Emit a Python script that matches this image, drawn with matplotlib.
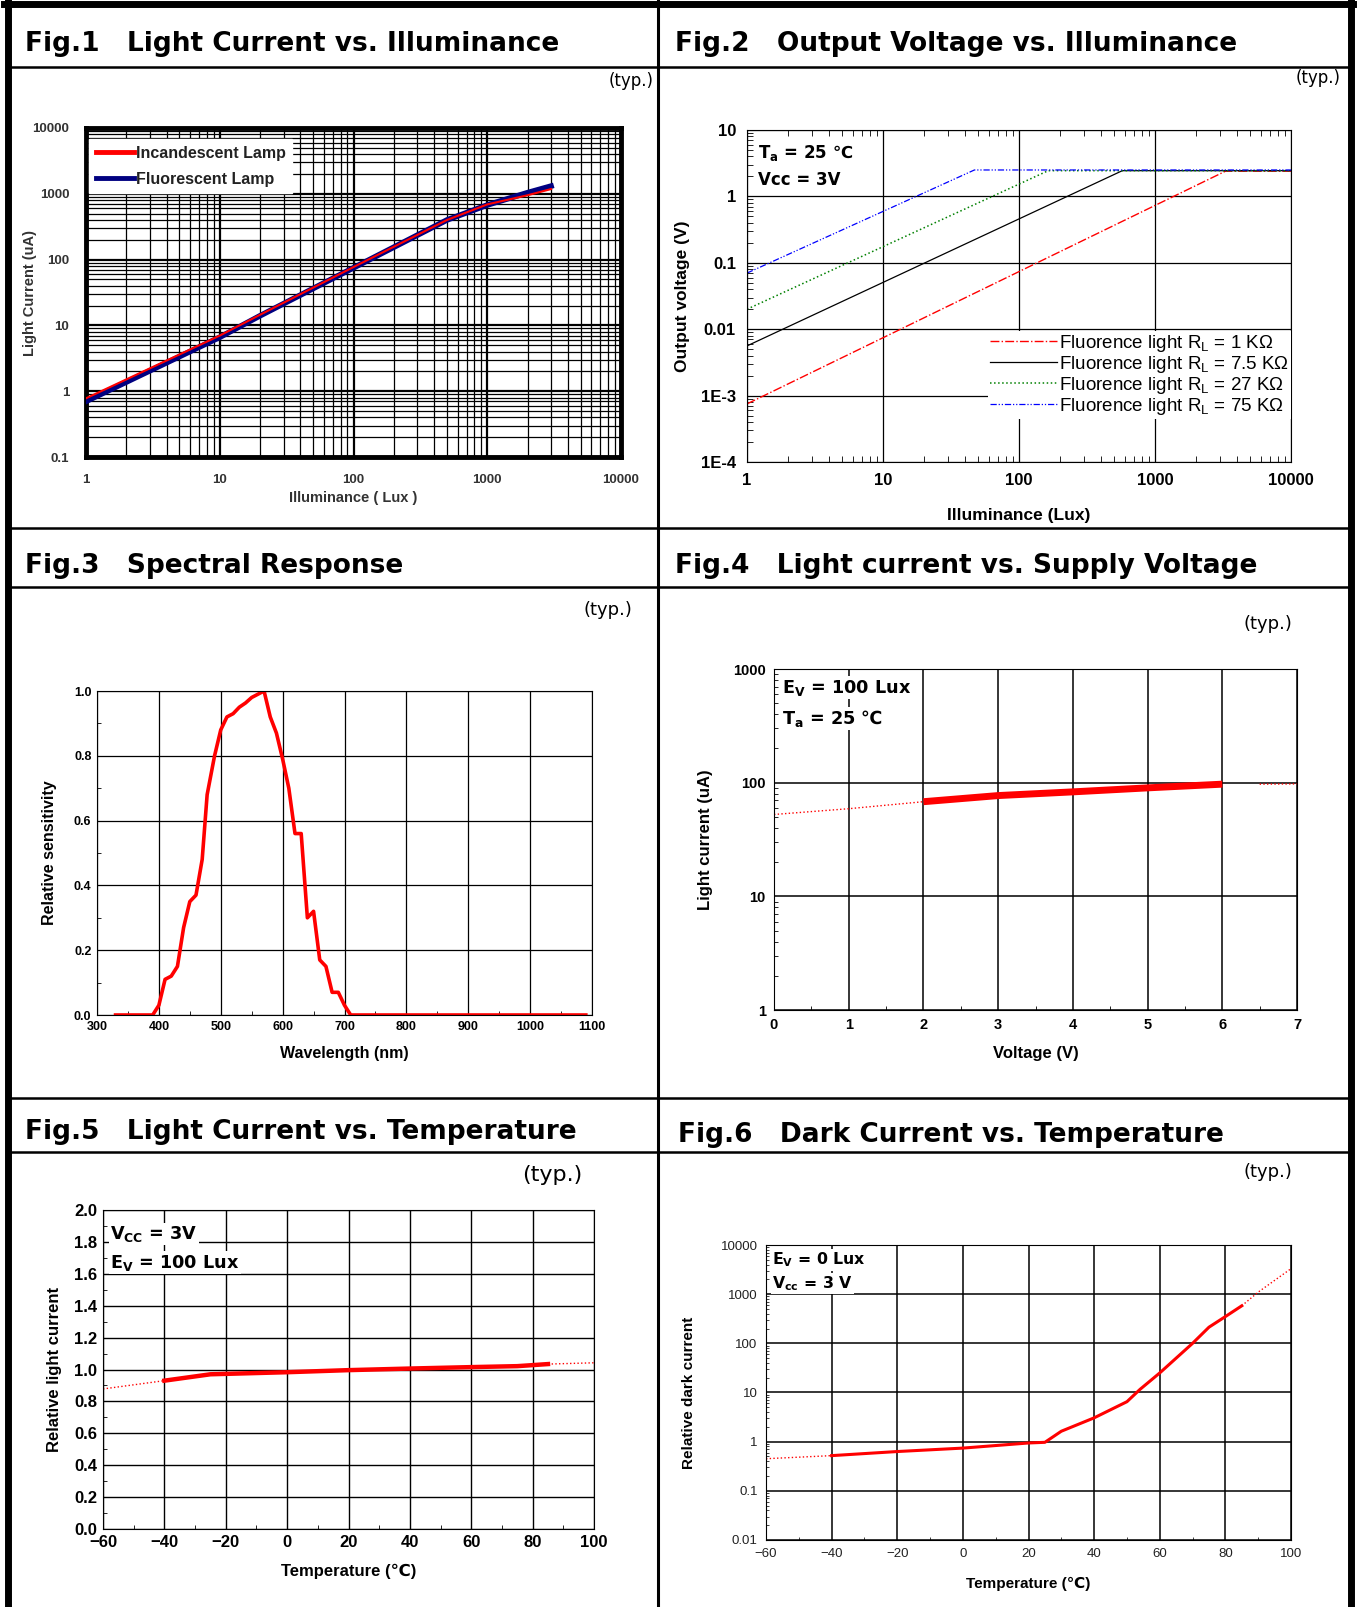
import matplotlib
matplotlib.use('Agg')
import matplotlib.pyplot as plt
import matplotlib.ticker as mticker
from matplotlib.lines import Line2D

plt.rcParams['font.family'] = ['Liberation Sans', 'DejaVu Sans', 'Noto Sans CJK SC']
plt.rcParams['mathtext.fontset'] = 'custom'
plt.rcParams['mathtext.rm'] = 'Liberation Sans'
plt.rcParams['mathtext.bf'] = 'Liberation Sans:bold'

W, H = 1357, 1607

#%% data
# Fig.1
lux1 = [1, 10, 20, 100, 500, 1000, 2000, 3000]
incandescent = [0.78, 7.0, 14.5, 77, 400, 690, 950, 1180]
fluorescent = [0.70, 6.6, 14.0, 75, 400, 675, 1040, 1310]

# Fig.2 (knee points of each load line)
lux_r1 = [1, 3300, 10000]
vout_r1 = [0.00075, 2.4, 2.4]
lux_r75 = [1, 575, 10000]
vout_r75 = [0.0056, 2.44, 2.44]
lux_r27 = [1, 164, 10000]
vout_r27 = [0.02, 2.44, 2.44]
lux_r750 = [1, 47, 10000]
vout_r750 = [0.07, 2.5, 2.5]

# Fig.3
wavelength = [330, 390, 400, 410, 420, 430, 440, 450, 460, 470, 478, 490, 500, 510,
              520, 530, 540, 550, 560, 570, 580, 590, 600, 610, 620, 630, 640, 650,
              660, 670, 680, 690, 700, 710, 1090]
sensitivity = [0.0, 0.0, 0.03, 0.11, 0.12, 0.15, 0.27, 0.35, 0.37, 0.48, 0.68, 0.80,
               0.88, 0.92, 0.93, 0.95, 0.963, 0.98, 0.99, 1.0, 0.92, 0.87, 0.79, 0.70,
               0.56, 0.56, 0.30, 0.32, 0.17, 0.15, 0.07, 0.07, 0.03, 0.0, 0.0]

# Fig.4
volt = [2, 3, 4, 5, 6]
current4 = [68, 77, 83, 90, 97]
volt_ext = [0, 1, 2]
current4_ext = [52.5, 59, 68]
volt_ext2 = [6.5, 7]
current4_ext2 = [97, 97.5]

# Fig.5
temp5 = [-40, -25, 0, 20, 40, 60, 75, 85]
rel_light = [0.93, 0.97, 0.983, 0.996, 1.006, 1.015, 1.021, 1.034]
temp5_lo = [-60, -40]
rel_light_lo = [0.878, 0.93]
temp5_hi = [85, 100]
rel_light_hi = [1.034, 1.042]

# Fig.6
temp6 = [-40, -20, 0, 20, 25, 30, 40, 50, 54, 60, 70, 75, 80, 85]
dark = [0.52, 0.63, 0.74, 0.94, 0.97, 1.63, 3.05, 6.5, 11.6, 25, 100, 213, 350, 580]
temp6_lo = [-60, -40]
dark_lo = [0.45, 0.52]
temp6_hi = [85, 90, 100]
dark_hi = [580, 1100, 3300]

titles = ['Fig.1   Light Current vs. Illuminance', 'Fig.2   Output Voltage vs. Illuminance',
          'Fig.3   Spectral Response', 'Fig.4   Light current vs. Supply Voltage',
          'Fig.5   Light Current vs. Temperature', 'Fig.6   Dark Current vs. Temperature']


def ax_at(x0, y0, x1, y1):
    return fig.add_axes([x0 / W, 1 - y1 / H, (x1 - x0) / W, (y1 - y0) / H])


def fline(x0, y0, x1, y1, lw):
    fig.add_artist(Line2D([x0 / W, x1 / W], [1 - y0 / H, 1 - y1 / H],
                          transform=fig.transFigure, color='black', lw=lw))


def ftext(x, y, s, **kw):
    fig.text(x / W, 1 - y / H, s, **kw)


def bold_ticks(ax):
    for lab in ax.get_xticklabels() + ax.get_yticklabels():
        lab.set_fontweight('bold')


fig = plt.figure(figsize=(W / 100, H / 100), dpi=100)

#%% table frame
fline(4, 4, 1353, 4, 5)
fline(8, 0, 8, H, 5)
fline(1351, 0, 1351, H, 5)
fline(658, 0, 658, H, 2.2)
for yy in [67, 528, 587, 1098, 1152]:
    fline(8, yy, 1351, yy, 1.8)

tfont = dict(family=['DejaVu Sans'], fontweight='bold', fontsize=19, va='center', ha='left')
ftext(25, 44, titles[0], **tfont)
ftext(675, 44, titles[1], **tfont)
ftext(25, 566, titles[2], **tfont)
ftext(675, 566, titles[3], **tfont)
ftext(25, 1132, titles[4], **tfont)
ftext(678, 1135, titles[5], **tfont)

typ = dict(family=['DejaVu Sans'], ha='right', va='center')
ftext(654, 81, '(typ.)', fontsize=12, **typ)
ftext(1341, 78, '(typ.)', fontsize=12, **typ)
ftext(632, 610, '(typ.)', fontsize=13, **typ)
ftext(1292, 624, '(typ.)', fontsize=13, **typ)
ftext(582, 1175, '(typ.)', fontsize=16, **typ)
ftext(1292, 1172, '(typ.)', fontsize=13, **typ)

# text with the Celsius sign needs a font that has it
note = dict(family=['DejaVu Sans'], fontweight='bold', va='center')

#%% Fig.1
ax = ax_at(86, 128, 621, 457)
ax.plot(lux1, fluorescent, color='navy', lw=4, zorder=3)
ax.plot(lux1, incandescent, color='red', lw=1.5, zorder=4)
ax.set_xscale('log')
ax.set_yscale('log')
ax.set_xlim(1, 10000)
ax.set_ylim(0.1, 10000)
ax.grid(which='major', color='black', lw=1.6)
ax.grid(which='minor', color='black', lw=0.9)
ax.yaxis.set_minor_locator(mticker.LogLocator(subs=range(2, 10), numticks=20))
ax.xaxis.set_minor_locator(mticker.LogLocator(subs=range(2, 10), numticks=20))
ax.xaxis.set_major_formatter(mticker.FuncFormatter(lambda v, p: '%g' % v))
ax.yaxis.set_major_formatter(mticker.FuncFormatter(lambda v, p: '%g' % v))
ax.tick_params(which='both', length=0, labelsize=9.5, colors='#333333', pad=12)
bold_ticks(ax)
for s in ax.spines.values():
    s.set_linewidth(3.5)
leg = ax.legend([Line2D([], [], color='red', lw=3.5), Line2D([], [], color='navy', lw=3.5)],
                ['Incandescent Lamp', 'Fluorescent Lamp'], loc='upper left',
                bbox_to_anchor=(0.0, 0.975), frameon=True, fancybox=False, edgecolor='white',
                framealpha=1, borderaxespad=0.2, handlelength=2.4, handletextpad=0.1,
                labelspacing=0.7, prop={'weight': 'bold', 'size': 11.5})
leg.set_zorder(5)
for t in leg.get_texts():
    t.set_color('#222222')
ax.set_xlabel('Illuminance ( Lux )', fontsize=10.5, fontweight='bold', color='#333333', labelpad=4)
ax.set_ylabel('Light Current (uA)', fontsize=10.5, fontweight='bold', color='#333333')
ax.yaxis.set_label_coords(-0.092, 0.5)

#%% Fig.2
ax = ax_at(747, 130, 1291, 462)
ax.plot(lux_r1, vout_r1, color='red', lw=1, ls='-.', label='Fluorence light R$_\\mathregular{L}$ = 1 KΩ')
ax.plot(lux_r75, vout_r75, color='black', lw=0.9, label='Fluorence light R$_\\mathregular{L}$ = 7.5 KΩ')
ax.plot(lux_r27, vout_r27, color='green', lw=1.1, ls=':', label='Fluorence light R$_\\mathregular{L}$ = 27 KΩ')
ax.plot(lux_r750, vout_r750, color='blue', lw=0.9, ls=(0, (5, 1.5, 1, 1.5, 1, 1.5)),
        label='Fluorence light R$_\\mathregular{L}$ = 75 KΩ')
ax.set_xscale('log')
ax.set_yscale('log')
ax.set_xlim(1, 10000)
ax.set_ylim(1e-4, 10)
ax.grid(which='major', color='black', lw=0.9)
ax.set_yticks([1e-4, 1e-3, 0.01, 0.1, 1, 10])
ax.set_yticklabels(['1E-4', '1E-3', '0.01', '0.1', '1', '10'])
ax.xaxis.set_major_formatter(mticker.FuncFormatter(lambda v, p: '%g' % v))
ax.tick_params(which='both', direction='in', top=True, labelsize=12)
ax.tick_params(which='major', length=0, pad=8)
ax.tick_params(which='minor', length=4)
bold_ticks(ax)
leg = ax.legend(loc='lower right', bbox_to_anchor=(1.0, 0.13), frameon=True, fancybox=False,
                edgecolor='none', framealpha=1, borderpad=0.1, borderaxespad=0,
                handlelength=3.6, handletextpad=0.1, labelspacing=0.0, fontsize=13.5)
ax.text(0.02, 0.93, 'T$_\\mathregular{a}$ = 25 ℃', transform=ax.transAxes, fontsize=12, **note)
ax.text(0.02, 0.85, 'Vcc = 3V', transform=ax.transAxes, fontsize=12, **note)
ax.set_xlabel('Illuminance (Lux)', fontsize=12.5, fontweight='bold', labelpad=14)
ax.set_ylabel('Output voltage (V)', fontsize=12.5, fontweight='bold', labelpad=8)

#%% Fig.3
ax = ax_at(97, 691, 592, 1015)
ax.plot(wavelength, sensitivity, color='red', lw=2.6)
ax.set_xlim(300, 1100)
ax.set_ylim(0, 1.0)
ax.set_xticks(range(300, 1101, 100))
ax.set_yticks([0, 0.2, 0.4, 0.6, 0.8, 1.0])
ax.yaxis.set_major_formatter(mticker.FormatStrFormatter('%.1f'))
ax.xaxis.set_minor_locator(mticker.MultipleLocator(50))
ax.yaxis.set_minor_locator(mticker.MultipleLocator(0.1))
ax.grid(which='major', color='black', lw=0.9)
ax.tick_params(which='both', direction='in', labelsize=9)
ax.tick_params(which='major', length=0, pad=4)
ax.tick_params(which='minor', length=3)
bold_ticks(ax)
ax.set_xlabel('Wavelength (nm)', fontsize=11.5, fontweight='bold', labelpad=10)
ax.set_ylabel('Relative sensitivity', fontsize=11.5, fontweight='bold', labelpad=12)

#%% Fig.4
ax = ax_at(774, 669, 1297, 1010)
ax.plot(volt_ext, current4_ext, color='red', lw=1, ls=':')
ax.plot(volt_ext2, current4_ext2, color='red', lw=1, ls=':')
ax.plot(volt, current4, color='red', lw=5, solid_capstyle='butt')
ax.set_yscale('log')
ax.set_xlim(0, 7)
ax.set_ylim(1, 1000)
ax.xaxis.set_minor_locator(mticker.MultipleLocator(0.5))
ax.yaxis.set_major_formatter(mticker.FuncFormatter(lambda v, p: '%g' % v))
ax.grid(which='major', color='black', lw=1.1)
ax.tick_params(which='both', direction='in', labelsize=10.5)
ax.tick_params(which='major', length=0, pad=6)
ax.tick_params(which='minor', length=3)
bold_ticks(ax)
ax.text(0.015, 0.945, 'E$_\\mathregular{V}$ = 100 Lux', transform=ax.transAxes, fontsize=12.7,
        bbox=dict(fc='white', ec='none', pad=1), **note)
ax.text(0.015, 0.855, 'T$_\\mathregular{a}$ = 25 ℃', transform=ax.transAxes, fontsize=12.7,
        bbox=dict(fc='white', ec='none', pad=1), **note)
ax.set_xlabel('Voltage (V)', fontsize=12, fontweight='bold', labelpad=10)
ax.set_ylabel('Light current (uA)', fontsize=12, fontweight='bold', labelpad=14)

#%% Fig.5
ax = ax_at(103, 1210, 594, 1529)
ax.plot(temp5_lo, rel_light_lo, color='red', lw=1, ls=':')
ax.plot(temp5_hi, rel_light_hi, color='red', lw=1, ls=':')
ax.plot(temp5, rel_light, color='red', lw=3.2)
ax.set_xlim(-60, 100)
ax.set_ylim(0, 2.0)
ax.set_xticks(range(-60, 101, 20))
ax.set_yticks([0, 0.2, 0.4, 0.6, 0.8, 1.0, 1.2, 1.4, 1.6, 1.8, 2.0])
ax.yaxis.set_major_formatter(mticker.FormatStrFormatter('%.1f'))
ax.xaxis.set_minor_locator(mticker.MultipleLocator(10))
ax.yaxis.set_minor_locator(mticker.MultipleLocator(0.1))
ax.grid(which='major', color='black', lw=1.0)
ax.tick_params(which='both', direction='in', labelsize=12)
ax.tick_params(which='major', length=0, pad=4)
ax.tick_params(which='minor', length=3)
bold_ticks(ax)
ax.text(0.015, 0.925, 'V$_\\mathregular{CC}$ = 3V', transform=ax.transAxes, fontsize=12.7,
        bbox=dict(fc='white', ec='none', pad=1), **note)
ax.text(0.015, 0.835, 'E$_\\mathregular{V}$ = 100 Lux', transform=ax.transAxes, fontsize=12.7,
        bbox=dict(fc='white', ec='none', pad=1), **note)
ax.set_xlabel('Temperature (℃)', fontsize=12, fontweight='bold', labelpad=10)
ax.set_ylabel('Relative light current', fontsize=12, fontweight='bold', labelpad=9)

#%% Fig.6
ax = ax_at(766, 1245, 1291, 1540)
ax.plot(temp6_lo, dark_lo, color='red', lw=1, ls=':')
ax.plot(temp6_hi, dark_hi, color='red', lw=1, ls=':')
ax.plot(temp6, dark, color='red', lw=2.2)
ax.set_yscale('log')
ax.set_xlim(-60, 100)
ax.set_ylim(0.01, 10000)
ax.set_xticks(range(-60, 101, 20))
ax.xaxis.set_minor_locator(mticker.MultipleLocator(10))
ax.yaxis.set_minor_locator(mticker.LogLocator(subs=range(2, 10), numticks=20))
ax.yaxis.set_major_formatter(mticker.FuncFormatter(lambda v, p: '%g' % v))
ax.grid(which='major', color='black', lw=1.1)
ax.tick_params(which='both', direction='in', labelsize=9.5, colors='#222222')
ax.tick_params(which='major', length=0, pad=6)
ax.tick_params(which='minor', length=2.5)
ax.text(0.012, 0.95, 'E$_\\mathregular{V}$ = 0 Lux', transform=ax.transAxes, fontsize=11.3,
        bbox=dict(fc='white', ec='none', pad=1), **note)
ax.text(0.012, 0.87, 'V$_\\mathregular{cc}$ = 3 V', transform=ax.transAxes, fontsize=11.3,
        bbox=dict(fc='white', ec='none', pad=1), **note)
ax.set_xlabel('Temperature (℃)', fontsize=11, fontweight='bold', labelpad=12)
ax.set_ylabel('Relative dark current', fontsize=11, fontweight='bold', labelpad=18)

fig.savefig('out.png', dpi=100)
